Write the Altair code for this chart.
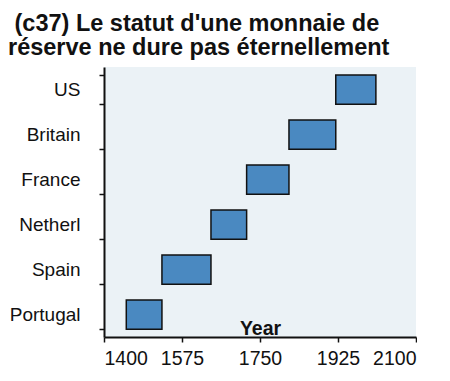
import altair as alt
import pandas as pd

countries = ["US", "Britain", "France", "Netherl", "Spain", "Portugal"]
start_year = [1920, 1815, 1720, 1640, 1530, 1450]
end_year = [2010, 1920, 1815, 1720, 1640, 1530]
x_ticks = [1400, 1575, 1750, 1925, 2100]

df = pd.DataFrame({"country": countries, "start": start_year, "end": end_year})

FONT = "Liberation Sans"

chart = (
    alt.Chart(df)
    .mark_bar(fill="#4a89c1", stroke="#111111", strokeWidth=1.5)
    .encode(
        y=alt.Y(
            "country:N",
            sort=countries,
            scale=alt.Scale(paddingInner=0.35, paddingOuter=0.175),
            axis=alt.Axis(
                title=None,
                tickBand="extent",
                labelFontSize=19,
                labelFont=FONT,
                labelColor="#111111",
                labelPadding=19,
                tickSize=5,
                tickColor="#111111",
                domainColor="#111111",
                domainWidth=2,
                tickWidth=1.5,
                minExtent=96,
                maxExtent=96,
            ),
        ),
        x=alt.X(
            "start:Q",
            scale=alt.Scale(domain=[1400, 2100], nice=False, zero=False),
            axis=alt.Axis(
                title="Year",
                values=x_ticks,
                format="d",
                grid=False,
                labelFontSize=19.5,
                labelFont=FONT,
                labelColor="#111111",
                labelPadding=7,
                tickSize=5,
                tickColor="#111111",
                domainColor="#111111",
                domainWidth=2,
                tickWidth=1.5,
                titleFont=FONT,
                titleFontSize=19.5,
                titleFontWeight="bold",
                titleColor="#111111",
                titleY=-3,
                titleBaseline="alphabetic",
            ),
        ),
        x2="end:Q",
    )
    .properties(
        width=312,
        height=270,
        padding={"top": 3, "left": 0, "right": 0, "bottom": 0},
        title=alt.TitleParams(
            text=["\u200b\u00a0(c37) Le statut d'une monnaie de", "réserve ne dure pas éternellement"],
            anchor="start",
            frame="bounds",
            font=FONT,
            fontSize=23.5,
            fontWeight="bold",
            color="#111111",
            lineHeight=24,
            offset=-1,
        ),
    )
    .configure_view(fill="#ebf2f6", strokeWidth=0)
)

chart.save("out.html", embed_options={"renderer": "svg", "actions": False})
